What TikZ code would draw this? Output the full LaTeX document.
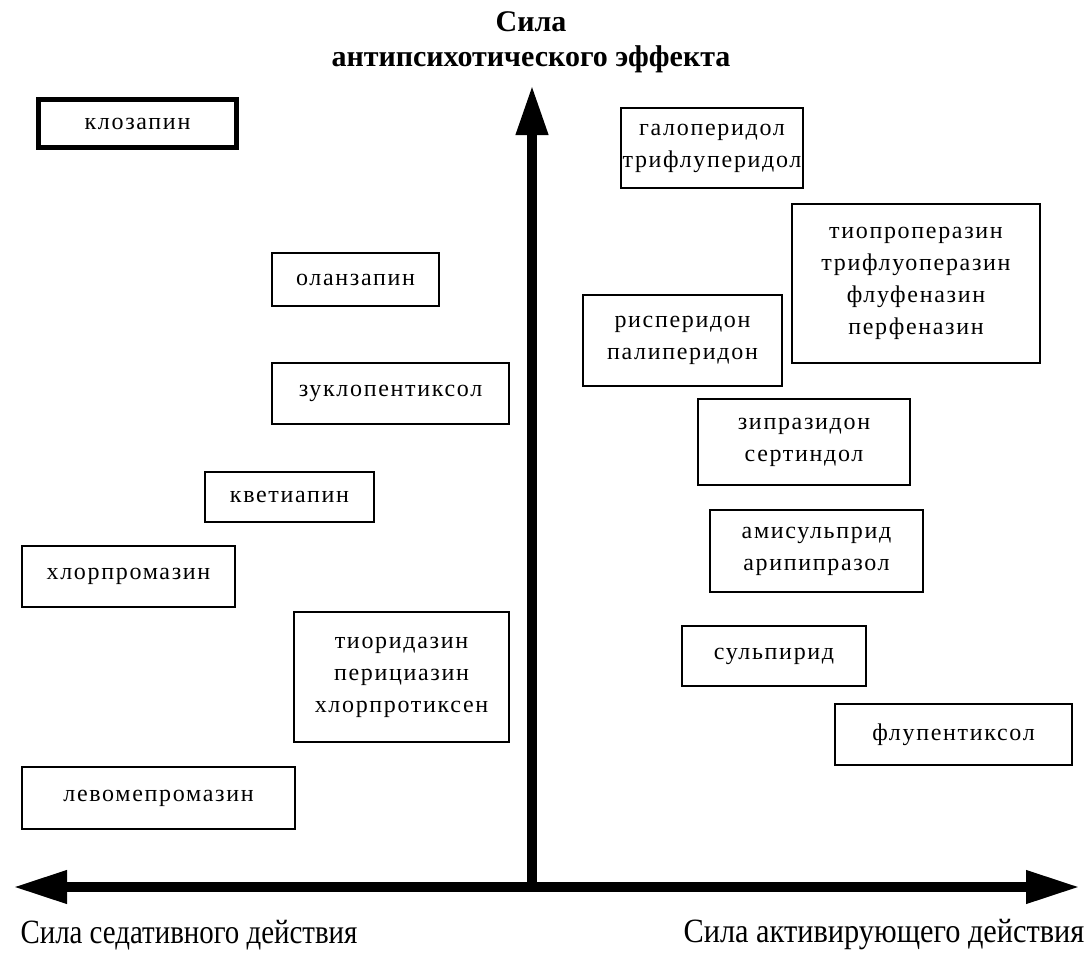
\documentclass[tikz,border=0pt]{standalone}
\usepackage{fontspec}
\setmainfont{Liberation Serif}
\newfontfamily\drugfont[LetterSpace=7]{Liberation Serif}
\newfontfamily\axisfont[FakeStretch=0.85]{Liberation Serif}
\usetikzlibrary{arrows.meta}
\tikzset{
  box/.style={draw=black,line width=1pt,fill=white,align=center,inner sep=0pt,
    font=\drugfont\fontsize{12}{16}\selectfont},
  strongbox/.style={box,line width=2.5pt},
  axis/.style={line width=5pt,draw=black},
  axislabel/.style={font=\axisfont\fontsize{17}{20}\selectfont,inner sep=0pt},
  titlelabel/.style={font=\bfseries\fontsize{15}{17.5}\selectfont,align=center,inner sep=0pt}
}

\begin{document}
\begin{tikzpicture}[x=0.5pt,y=-0.5pt]
  \useasboundingbox (0,0) rectangle (1091,953);
  \coordinate (origin) at (532,887);
  \coordinate (west) at (13,887);
  \coordinate (east) at (1080,887);
  \coordinate (north) at (532,85);
  \draw[axis,-{Triangle[length=25pt,width=15pt]}] (origin) -- (north);
  \draw[axis,{Triangle[length=27pt,width=15.5pt]}-{Triangle[length=27pt,width=15.5pt]}] (west) -- (east);

  \node[titlelabel] (potency) at (531,42) {Сила\\антипсихотического эффекта};
  \node[axislabel] (sedation) at (189,935) {Сила седативного действия};
  \node[axislabel,xscale=1.05] (activation) at (884,935) {Сила активирующего действия};

  \node[strongbox,minimum width=99pt,minimum height=24pt] (clozapine) at (137.5,123.5) {клозапин};
  \node[box,minimum width=83.5pt,minimum height=26.5pt] (olanzapine) at (355.5,279.5) {оланзапин};
  \node[box,minimum width=118.5pt,minimum height=30.5pt] (zuclopenthixol) at (390.5,393.5) {зуклопентиксол};
  \node[box,minimum width=84.5pt,minimum height=25pt] (quetiapine) at (289.5,497) {кветиапин};
  \node[box,minimum width=106.5pt,minimum height=30.5pt] (chlorpromazine) at (128.5,576) {хлорпромазин};
  \node[box,minimum width=107.5pt,minimum height=65pt] (thioridazine) at (401.5,677) {тиоридазин\\перициазин\\хлорпротиксен};
  \node[box,minimum width=136.5pt,minimum height=31pt] (levomepromazine) at (158.5,798) {левомепромазин};

  \node[box,minimum width=91pt,minimum height=40pt] (haloperidol) at (712,148) {галоперидол\\трифлуперидол};
  \node[box,minimum width=124pt,minimum height=79.5pt] (thioproperazine) at (916,283.5) {тиопроперазин\\трифлуоперазин\\флуфеназин\\перфеназин};
  \node[box,minimum width=99.5pt,minimum height=45.5pt] (risperidone) at (682.5,340.5) {рисперидон\\палиперидон};
  \node[box,minimum width=106pt,minimum height=43pt] (ziprasidone) at (804,442) {зипразидон\\сертиндол};
  \node[box,minimum width=106.5pt,minimum height=41pt] (amisulpride) at (816.5,551) {амисульприд\\арипипразол};
  \node[box,minimum width=92pt,minimum height=30pt] (sulpiride) at (774,656) {сульпирид};
  \node[box,minimum width=118.5pt,minimum height=30.5pt] (flupentixol) at (953.5,734.5) {флупентиксол};
\end{tikzpicture}
\end{document}
